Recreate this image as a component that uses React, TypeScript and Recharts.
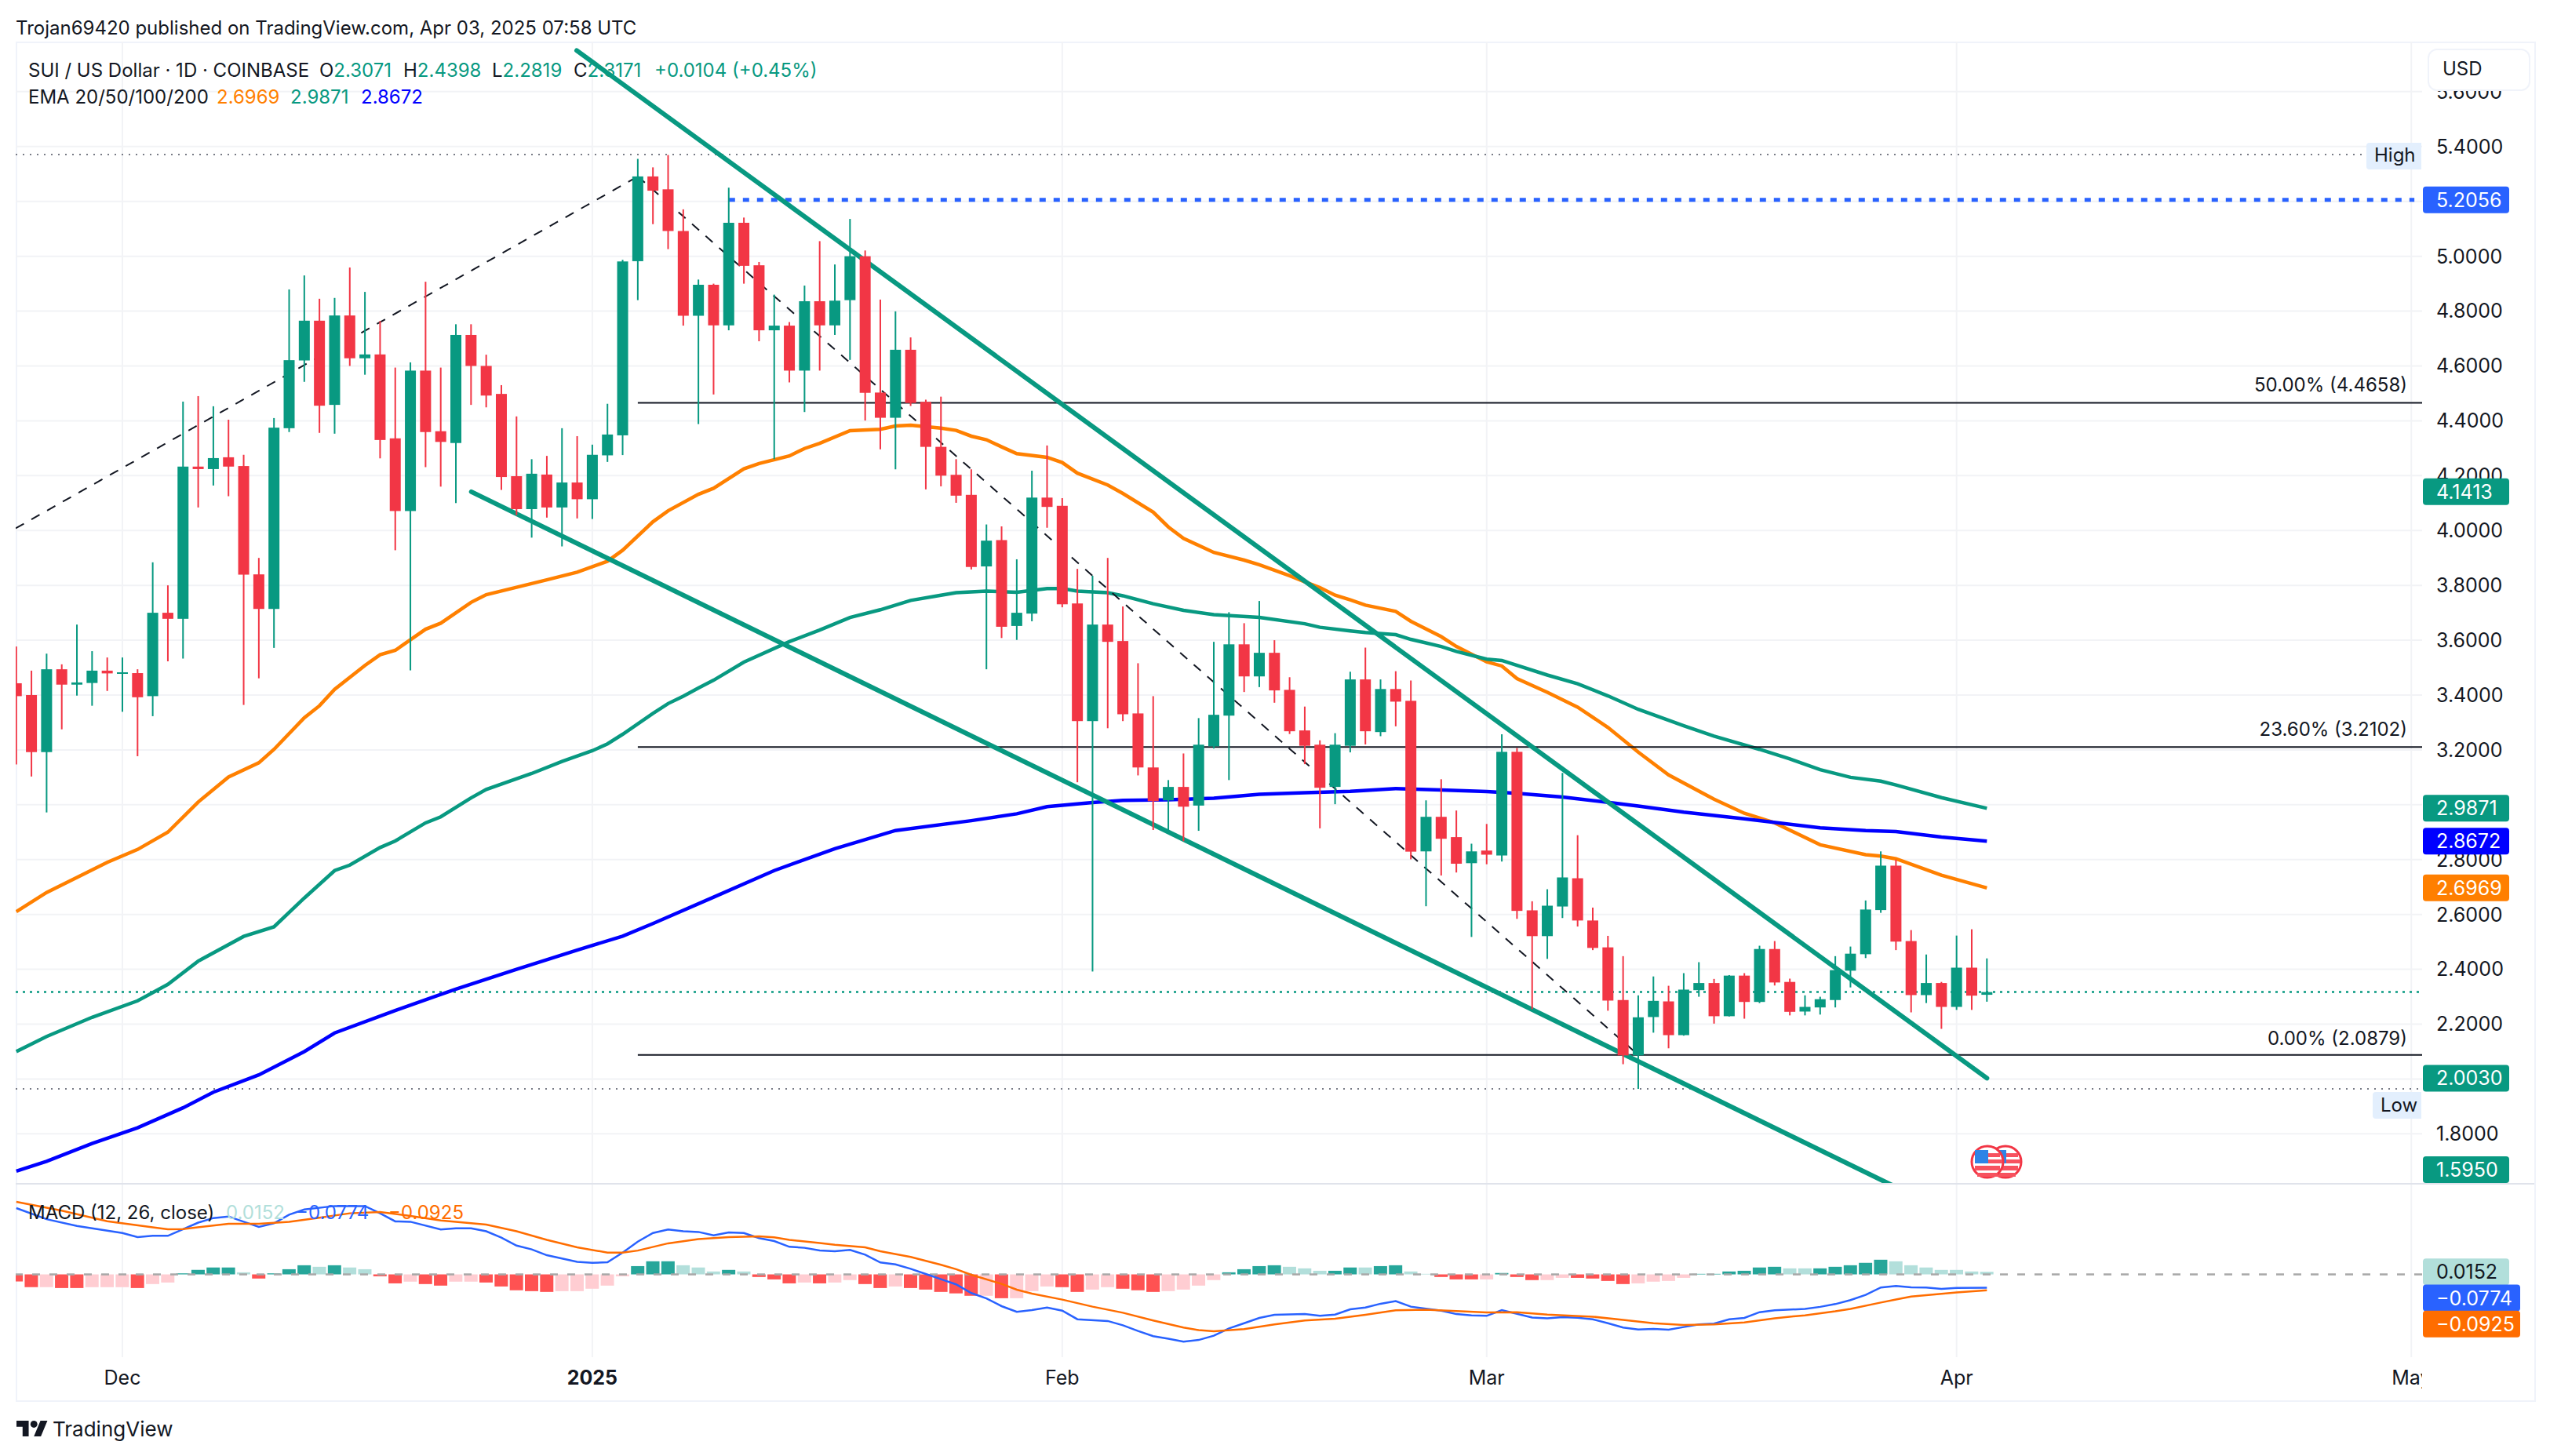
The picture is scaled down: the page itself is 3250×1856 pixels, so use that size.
import React from 'react';
import { ComposedChart, Bar, Line, XAxis, YAxis, CartesianGrid, ReferenceLine, Cell } from 'recharts';

const UP = '#089981';
const DOWN = '#f23645';
const FONT = 'Inter, "Noto Sans", sans-serif';
const INK = '#131722';

// daily candles, day 0 = Nov 24 2024
const opens = [3.443,3.40,3.192,3.494,3.438,3.444,3.489,3.479,3.48,3.396,3.70,3.678,4.233,4.224,4.267,4.235,3.84,3.714,4.373,4.62,4.765,4.458,4.784,4.628,4.642,4.336,4.071,4.583,4.362,4.319,4.713,4.60,4.498,4.198,4.078,4.204,4.084,4.175,4.114,4.274,4.347,4.982,5.291,5.244,5.092,4.783,4.896,4.748,5.122,4.967,4.73,4.747,4.583,4.836,4.748,4.84,5.0,4.503,4.411,4.659,4.469,4.305,4.203,4.13,3.869,3.965,3.652,3.697,4.12,4.09,3.734,3.305,3.657,3.597,3.333,3.136,3.016,3.065,2.997,3.213,3.325,3.585,3.468,3.554,3.419,3.271,3.219,3.065,3.215,3.457,3.265,3.422,3.379,2.83,2.956,2.882,2.787,2.833,2.815,3.193,2.615,2.521,2.629,2.732,2.578,2.48,2.288,2.086,2.226,2.283,2.16,2.324,2.35,2.229,2.377,2.281,2.474,2.354,2.246,2.261,2.288,2.395,2.455,2.616,2.778,2.503,2.306,2.35,2.263,2.406,2.3071];
const highs = [3.577,3.489,3.551,3.512,3.657,3.56,3.537,3.537,3.494,3.884,3.80,4.47,4.49,4.453,4.404,4.276,3.90,4.41,4.879,4.93,4.845,4.848,4.959,4.87,4.764,4.594,4.613,4.907,4.594,4.752,4.752,4.641,4.53,4.416,4.26,4.272,4.373,4.344,4.313,4.462,4.987,5.355,5.324,5.369,5.171,4.915,4.9,5.25,5.141,4.979,4.86,4.76,4.893,5.055,4.97,5.136,5.021,4.842,4.799,4.704,4.477,4.488,4.26,4.223,4.022,4.015,3.895,4.218,4.31,4.118,3.86,3.835,3.90,3.723,3.516,3.396,3.09,3.187,3.316,3.594,3.702,3.662,3.743,3.60,3.465,3.358,3.235,3.261,3.485,3.573,3.457,3.487,3.453,3.016,3.093,2.979,2.858,2.93,3.257,3.207,2.648,2.692,3.116,2.889,2.625,2.522,2.448,2.305,2.374,2.34,2.386,2.426,2.365,2.379,2.386,2.486,2.503,2.366,2.305,2.30,2.448,2.483,2.651,2.83,2.80,2.543,2.454,2.354,2.523,2.546,2.4398];
const lows = [3.147,3.103,2.972,3.275,3.398,3.361,3.415,3.339,3.177,3.323,3.523,3.533,4.084,4.164,4.125,3.364,3.461,3.572,4.359,4.542,4.356,4.353,4.60,4.568,4.263,3.928,3.49,4.231,4.16,4.10,4.458,4.449,4.148,4.056,3.974,4.047,3.942,4.044,4.042,4.25,4.275,4.84,5.117,5.026,4.747,4.388,4.496,4.73,4.90,4.69,4.26,4.54,4.432,4.583,4.713,4.622,4.401,4.296,4.223,4.454,4.15,4.161,4.101,3.858,3.494,3.608,3.601,3.669,4.01,3.72,3.082,2.392,3.279,3.305,3.107,2.908,2.903,2.867,2.905,3.205,3.09,3.411,3.429,3.372,3.258,3.148,2.914,3.002,3.191,3.22,3.25,3.286,2.801,2.63,2.742,2.753,2.518,2.783,2.793,2.584,2.255,2.438,2.587,2.556,2.47,2.249,2.054,1.964,2.169,2.112,2.158,2.30,2.202,2.228,2.22,2.277,2.341,2.232,2.232,2.235,2.261,2.334,2.441,2.606,2.47,2.243,2.277,2.183,2.252,2.252,2.2819];
const closes = [3.396,3.192,3.494,3.438,3.446,3.489,3.479,3.483,3.392,3.70,3.678,4.233,4.224,4.264,4.233,3.839,3.714,4.375,4.621,4.765,4.455,4.784,4.628,4.642,4.33,4.071,4.583,4.359,4.323,4.713,4.60,4.492,4.195,4.078,4.207,4.084,4.175,4.114,4.276,4.35,4.981,5.291,5.239,5.092,4.783,4.896,4.748,5.122,4.965,4.73,4.747,4.583,4.836,4.748,4.838,5.0,4.502,4.411,4.659,4.465,4.305,4.2,4.127,3.867,3.963,3.649,3.70,4.12,4.086,3.731,3.305,3.657,3.594,3.33,3.136,3.013,3.065,2.993,3.219,3.328,3.585,3.468,3.554,3.417,3.268,3.215,3.062,3.219,3.457,3.268,3.422,3.376,2.829,2.956,2.876,2.785,2.83,2.818,3.193,2.613,2.521,2.632,2.735,2.578,2.478,2.286,2.086,2.225,2.285,2.16,2.326,2.35,2.229,2.377,2.281,2.474,2.352,2.245,2.263,2.291,2.397,2.457,2.618,2.778,2.501,2.306,2.35,2.263,2.406,2.304,2.3171];

// [day, value]
const emaOrange = [[0,2.61],[1,2.645],[2,2.68],[4,2.735],[6,2.79],[8,2.837],[10,2.90],[12,3.01],[14,3.101],[16,3.153],[17,3.202],[19,3.317],[20,3.361],[21,3.421],[23,3.508],[24,3.547],[25,3.563],[27,3.64],[28,3.662],[30,3.738],[31,3.766],[33,3.793],[35,3.82],[37,3.848],[39,3.888],[40,3.928],[42,4.032],[43,4.072],[45,4.132],[46,4.154],[48,4.225],[49,4.244],[51,4.272],[52,4.299],[53,4.318],[55,4.364],[57,4.369],[58,4.381],[59,4.384],[61,4.373],[62,4.365],[63,4.344],[64,4.331],[65,4.305],[66,4.28],[68,4.267],[69,4.248],[70,4.209],[72,4.166],[73,4.135],[75,4.067],[76,4.013],[77,3.971],[79,3.92],[81,3.892],[82,3.875],[84,3.835],[85,3.813],[86,3.792],[87,3.764],[88,3.747],[89,3.728],[91,3.705],[92,3.669],[94,3.613],[95,3.577],[97,3.521],[98,3.506],[99,3.46],[101,3.41],[103,3.356],[105,3.282],[107,3.192],[109,3.109],[112,3.02],[114,2.969],[116,2.934],[119,2.854],[122,2.818],[123,2.813],[124,2.803],[127,2.743],[130,2.6969]];
const emaGreen = [[0,2.10],[2,2.155],[5,2.225],[8,2.285],[10,2.345],[12,2.43],[15,2.52],[17,2.555],[19,2.66],[21,2.76],[22,2.78],[24,2.844],[25,2.868],[27,2.934],[28,2.956],[30,3.025],[31,3.056],[34,3.114],[36,3.158],[38,3.197],[39,3.222],[40,3.257],[42,3.333],[43,3.369],[44,3.396],[45,3.426],[46,3.454],[48,3.52],[51,3.595],[53,3.637],[55,3.683],[57,3.711],[59,3.745],[61,3.764],[62,3.773],[64,3.779],[66,3.775],[68,3.788],[69,3.788],[70,3.779],[72,3.773],[73,3.762],[75,3.733],[77,3.709],[79,3.693],[82,3.683],[85,3.66],[86,3.647],[88,3.634],[89,3.628],[91,3.62],[92,3.603],[94,3.577],[95,3.559],[97,3.531],[98,3.526],[101,3.473],[103,3.441],[105,3.397],[107,3.348],[110,3.288],[112,3.25],[115,3.202],[117,3.167],[119,3.128],[121,3.10],[123,3.086],[124,3.072],[127,3.026],[130,2.9871]];
const emaBlue = [[0,1.664],[2,1.70],[5,1.765],[8,1.822],[11,1.895],[13,1.952],[16,2.015],[19,2.10],[21,2.168],[25,2.25],[29,2.328],[33,2.40],[37,2.47],[40,2.521],[42,2.567],[46,2.663],[50,2.76],[54,2.84],[58,2.906],[63,2.942],[66,2.967],[68,2.993],[71,3.008],[73,3.016],[76,3.018],[79,3.024],[82,3.038],[85,3.044],[88,3.049],[91,3.059],[94,3.054],[97,3.048],[99,3.042],[102,3.028],[105,3.009],[107,2.995],[110,2.973],[114,2.949],[119,2.916],[122,2.906],[124,2.902],[127,2.882],[130,2.8672]];

// drawn lines: [day, price]
const channelUpper = [[36.97,5.75],[130,2.003]];
const channelLower = [[30.02,4.1413],[124.4,1.595]];
const swingUp = [[-0.04,4.008],[41,5.291]];
const swingDown = [[41,5.291],[107,2.0879]];
const fibLevels = [4.4658,3.2102,2.0879];
const fibStart = 41;
const highLevel = 5.371;
const lowLevel = 1.964;
const lastClose = 2.3171;
const targetLevel = 5.2056;
const targetStart = 47;

const priceTicks = [1.8,2.0,2.2,2.4,2.6,2.8,3.0,3.2,3.4,3.6,3.8,4.0,4.2,4.4,4.6,4.8,5.0,5.2,5.4,5.6];
// these scale labels sit fully behind a price tag, only their grid line shows
const hiddenTickLabels = [2.0,3.0,5.2];
const priceTags = [
  { value: 5.2056, color: '#2962ff' },
  { value: 4.1413, color: UP },
  { value: 2.9871, color: UP },
  { value: 2.8672, color: '#0000ff' },
  { value: 2.6969, color: '#ff7f00' },
  { value: 2.003, color: UP },
  { value: 1.595, color: UP },
];
const xTicks = [7,38,69,97,128,158];
const xLabels = ['Dec','2025','Feb','Mar','Apr','May'];

const histValues = [-0.041,-0.074,-0.074,-0.079,-0.079,-0.074,-0.074,-0.074,-0.079,-0.056,-0.047,0.006,0.026,0.04,0.04,0.012,-0.024,0.006,0.03,0.053,0.044,0.053,0.04,0.03,-0.011,-0.052,-0.042,-0.056,-0.065,-0.042,-0.042,-0.047,-0.07,-0.092,-0.097,-0.1015,-0.097,-0.097,-0.083,-0.065,-0.011,0.048,0.076,0.076,0.053,0.04,0.017,0.026,0.017,-0.015,-0.029,-0.052,-0.047,-0.052,-0.047,-0.033,-0.056,-0.079,-0.07,-0.079,-0.088,-0.1015,-0.11,-0.124,-0.124,-0.138,-0.138,-0.097,-0.07,-0.074,-0.1015,-0.088,-0.074,-0.083,-0.092,-0.1015,-0.097,-0.088,-0.065,-0.033,0.012,0.03,0.048,0.053,0.044,0.035,0.021,0.021,0.04,0.04,0.048,0.053,0.017,0.003,-0.015,-0.029,-0.029,-0.029,0.008,-0.015,-0.033,-0.033,-0.02,-0.02,-0.024,-0.038,-0.056,-0.052,-0.042,-0.038,-0.02,0.003,0.003,0.017,0.021,0.04,0.044,0.035,0.035,0.035,0.044,0.053,0.067,0.085,0.076,0.053,0.04,0.026,0.026,0.017,0.0152];
// 1 = strong shade, 0 = pale shade of the histogram colour
const histStrong = [1,1,0,1,1,0,0,0,1,0,0,1,1,1,1,0,1,1,1,1,0,1,0,0,1,1,0,1,1,0,0,1,1,1,1,1,0,0,0,0,0,1,1,1,0,0,0,1,0,1,1,1,0,1,0,0,1,1,0,1,1,1,1,1,0,1,0,0,0,1,1,0,0,1,1,1,0,0,0,0,1,1,1,1,0,0,0,1,1,0,1,1,0,0,1,1,1,0,1,1,1,0,0,1,1,1,1,0,0,0,0,1,1,1,1,1,1,0,0,1,1,1,1,1,0,0,0,0,0,0,0];
const macdLine = [[0,0.384],[2,0.32],[4,0.281],[7,0.24],[8,0.216],[9,0.224],[10,0.2235],[12,0.30],[13,0.3265],[14,0.3356],[15,0.305],[16,0.275],[17,0.296],[18,0.346],[19,0.376],[21,0.396],[23,0.396],[24,0.354],[25,0.307],[26,0.305],[28,0.26],[29,0.267],[30,0.267],[31,0.25],[32,0.213],[33,0.167],[34,0.145],[35,0.111],[37,0.073],[38,0.0674],[39,0.07],[40,0.126],[41,0.19],[42,0.24],[43,0.26],[44,0.25],[45,0.246],[46,0.226],[47,0.243],[48,0.24],[49,0.21],[50,0.193],[51,0.16],[52,0.154],[53,0.139],[54,0.134],[55,0.142],[56,0.114],[57,0.069],[58,0.0583],[59,0.0326],[60,0.0022],[61,-0.028],[62,-0.058],[63,-0.108],[64,-0.139],[65,-0.184],[66,-0.217],[67,-0.207],[68,-0.192],[69,-0.21],[70,-0.26],[72,-0.27],[73,-0.295],[74,-0.328],[75,-0.358],[76,-0.373],[77,-0.39],[78,-0.38],[79,-0.355],[80,-0.313],[81,-0.283],[82,-0.252],[83,-0.234],[85,-0.23],[86,-0.24],[87,-0.233],[88,-0.202],[89,-0.192],[90,-0.17],[91,-0.155],[92,-0.187],[93,-0.199],[94,-0.21],[95,-0.23],[96,-0.237],[97,-0.24],[98,-0.207],[99,-0.228],[100,-0.25],[101,-0.255],[102,-0.248],[103,-0.251],[104,-0.26],[105,-0.283],[106,-0.308],[107,-0.319],[108,-0.316],[109,-0.32],[110,-0.305],[111,-0.29],[112,-0.285],[113,-0.26],[114,-0.252],[115,-0.219],[116,-0.208],[118,-0.2],[119,-0.188],[120,-0.172],[121,-0.149],[122,-0.119],[123,-0.076],[124,-0.067],[125,-0.075],[126,-0.076],[127,-0.084],[128,-0.078],[130,-0.0774]];
const signalLine = [[0,0.42],[3,0.369],[6,0.308],[9,0.273],[10,0.261],[11,0.263],[14,0.293],[16,0.293],[18,0.305],[20,0.328],[22,0.354],[24,0.3613],[26,0.339],[28,0.313],[31,0.289],[33,0.25],[35,0.2],[37,0.157],[39,0.1265],[40,0.126],[41,0.138],[43,0.18],[45,0.205],[47,0.216],[49,0.2205],[50,0.2144],[51,0.2],[53,0.182],[54,0.172],[56,0.157],[57,0.134],[59,0.101],[61,0.056],[62,0.03],[63,-0.002],[65,-0.055],[66,-0.0886],[67,-0.111],[69,-0.146],[71,-0.187],[73,-0.222],[75,-0.267],[77,-0.308],[78,-0.323],[79,-0.33],[81,-0.317],[83,-0.29],[85,-0.267],[87,-0.257],[89,-0.234],[91,-0.208],[93,-0.204],[95,-0.213],[97,-0.22],[99,-0.219],[101,-0.233],[104,-0.245],[106,-0.264],[108,-0.283],[110,-0.293],[112,-0.29],[114,-0.278],[116,-0.254],[118,-0.237],[120,-0.214],[121,-0.2],[123,-0.163],[124,-0.145],[125,-0.128],[127,-0.113],[128,-0.105],[130,-0.0925]];
const macdTags = [
  { value: 0.0152, color: '#b2dfdb', text: INK, shift: 0, wide: false },
  { value: -0.0774, color: '#2962ff', text: '#fff', shift: 13, wide: true },
  { value: -0.0925, color: '#ff6d00', text: '#fff', shift: 43, wide: true },
];

const candles = opens.map((o, i) => ({ day: i, open: o, high: highs[i], low: lows[i], close: closes[i] }));
const histogram = histValues.map((v, i) => ({ day: i, hist: v, strong: histStrong[i] }));
const pts = (list: number[][]) => list.map(([day, value]) => ({ day, value }));

const X_DOMAIN = [-0.04, 158.71];
const PRICE_DOMAIN = [1.618, 5.7827];
const MACD_DOMAIN = [-0.4795, 0.525];
const TAG_X = 3088;
const BODY_W = 14;

const candleRange = (d: any) => [d.low, d.high];

const Candle = (props: any) => {
  const { x, y, width, height, payload } = props;
  const { open, close, high, low } = payload;
  const at = (v: number) => y + ((high - v) / (high - low)) * height;
  const color = close >= open ? UP : DOWN;
  const top = at(Math.max(open, close));
  const bottom = at(Math.min(open, close));
  const cx = x + width / 2;
  return (
    <g>
      <rect x={cx - 1} y={y} width={2} height={height} fill={color} />
      <rect x={cx - BODY_W / 2} y={top} width={BODY_W} height={Math.max(bottom - top, 2)} fill={color} />
    </g>
  );
};

const PriceTag = (props: any) => {
  const { y, payload } = props;
  const tag = priceTags.find((t) => t.value === payload.value);
  if (!tag) return null;
  const cy = Math.min(y, 1491);
  return (
    <g>
      <rect x={TAG_X} y={cy - 17} width={110} height={34} rx={4} fill={tag.color} />
      <text x={3105} y={cy + 9} fontSize={25} fontFamily={FONT} fill="#fff">{tag.value.toFixed(4)}</text>
    </g>
  );
};

const MacdTag = (props: any) => {
  const { y, payload } = props;
  const tag = macdTags.find((t) => t.value === payload.value);
  if (!tag) return null;
  const cy = y + tag.shift;
  return (
    <g>
      <rect x={TAG_X} y={cy - 17} width={tag.wide ? 124 : 110} height={34} rx={4} fill={tag.color} />
      <text x={3105} y={cy + 9} fontSize={25} fontFamily={FONT} fill={tag.text}>
        {tag.value < 0 ? '\u2212' + Math.abs(tag.value).toFixed(4) : tag.value.toFixed(4)}
      </text>
    </g>
  );
};

const DateTick = (props: any) => {
  const { x, y, payload } = props;
  const label = xLabels[xTicks.indexOf(payload.value)];
  return (
    <text x={x} y={y + 27} textAnchor="middle" fontSize={25} fontFamily={FONT} fill={INK} fontWeight={label === '2025' ? 700 : 400}>
      {label}
    </text>
  );
};

const Txt = ({ x, y, color = INK, size = 24, right, children }: any) => (
  <div
    style={{
      position: 'absolute',
      ...(right !== undefined ? { right: 3250 - right } : { left: x }),
      top: y,
      transform: 'translateY(-50%)',
      color,
      fontSize: size,
      fontFamily: FONT,
      whiteSpace: 'nowrap',
      lineHeight: 1,
    }}
  >
    {children}
  </div>
);

const Flag = ({ cx }: { cx: number }) => (
  <g>
    <circle cx={cx} cy={1481} r={20} fill="#fff" stroke={DOWN} strokeWidth={3} />
    <rect x={cx - 16} y={1486} width={32} height={6} fill="#f7525f" />
    <rect x={cx - 13} y={1495} width={26} height={5} fill="#f7525f" />
    <rect x={cx + 1} y={1470} width={15} height={5} fill="#f7525f" />
    <rect x={cx + 1} y={1478} width={18} height={5} fill="#f7525f" />
    <rect x={cx - 16} y={1466} width={17} height={17} fill="#2e84e6" />
  </g>
);

export default function App() {
  return (
    <div style={{ position: 'absolute', left: 0, top: 0, width: 3250, height: 1856, background: '#fff', overflow: 'hidden' }}>
      <Txt x={20} y={36}>Trojan69420 published on TradingView.com, Apr 03, 2025 07:58 UTC</Txt>
      <div style={{ position: 'absolute', left: 20, top: 53, width: 3208, height: 1730, border: '2px solid #f0f3fa' }} />

      {/* grid and price scale sit under the legend text */}
      <div style={{ position: 'absolute', left: 0, top: 0 }}>
        <ComposedChart width={3250} height={1509} data={candles} margin={{ top: 53, right: 0, bottom: 0, left: 20 }}>
          <CartesianGrid stroke="#f2f3f6" strokeWidth={2} syncWithTicks />
          <XAxis type="number" dataKey="day" domain={X_DOMAIN} ticks={xTicks} interval={0} allowDataOverflow hide />
          <YAxis
            orientation="right"
            type="number"
            domain={PRICE_DOMAIN}
            allowDataOverflow
            ticks={priceTicks}
            interval={0}
            width={163}
            axisLine={false}
            tickLine={false}
            tickMargin={12}
            tickFormatter={(v: number) => (hiddenTickLabels.includes(v) ? '' : v.toFixed(4))}
            tick={{ fontSize: 25, fontFamily: FONT, fill: INK }}
          />
        </ComposedChart>
      </div>

      <Txt x={36} y={90}>SUI / US Dollar · 1D · COINBASE</Txt>
      <Txt x={407} y={90}>O<span style={{ color: UP }}>2.3071</span></Txt>
      <Txt x={514} y={90}>H<span style={{ color: UP }}>2.4398</span></Txt>
      <Txt x={627} y={90}>L<span style={{ color: UP }}>2.2819</span></Txt>
      <Txt x={731} y={90}>C<span style={{ color: UP }}>2.3171</span></Txt>
      <Txt x={834} y={90} color={UP}>+0.0104 (+0.45%)</Txt>
      <Txt x={36} y={124}>EMA 20/50/100/200</Txt>
      <Txt x={276} y={124} color="#ff7f00">2.6969</Txt>
      <Txt x={370} y={124} color={UP}>2.9871</Txt>
      <Txt x={460} y={124} color="#0000ff">2.8672</Txt>

      <div style={{ position: 'absolute', left: 0, top: 0 }}>
        <ComposedChart width={3250} height={1509} data={candles} margin={{ top: 53, right: 0, bottom: 0, left: 20 }}>
          <XAxis type="number" dataKey="day" domain={X_DOMAIN} ticks={xTicks} allowDataOverflow hide />
          <YAxis orientation="right" type="number" domain={PRICE_DOMAIN} allowDataOverflow width={162} axisLine={false} tickLine={false} tick={false} />
          <YAxis
            yAxisId="tags"
            orientation="right"
            type="number"
            domain={PRICE_DOMAIN}
            allowDataOverflow
            ticks={priceTags.map((t) => t.value)}
            interval={0}
            width={1}
            axisLine={false}
            tickLine={false}
            tick={<PriceTag />}
          />
          <Line data={pts([[-0.04, highLevel],[158.71, highLevel]])} dataKey="value" dot={false} stroke="#787b86" strokeWidth={2} strokeDasharray="2 7" isAnimationActive={false} />
          <Line data={pts([[-0.04, lowLevel],[158.71, lowLevel]])} dataKey="value" dot={false} stroke="#787b86" strokeWidth={2} strokeDasharray="2 7" isAnimationActive={false} />
          <Line data={pts([[-0.04, lastClose],[158.71, lastClose]])} dataKey="value" dot={false} stroke={UP} strokeWidth={2.5} strokeDasharray="3 6" isAnimationActive={false} />
          <Line data={pts(emaOrange)} dataKey="value" dot={false} stroke="#ff8000" strokeWidth={4.5} isAnimationActive={false} />
          <Line data={pts(emaGreen)} dataKey="value" dot={false} stroke={UP} strokeWidth={4.5} isAnimationActive={false} />
          <Line data={pts(emaBlue)} dataKey="value" dot={false} stroke="#0000ff" strokeWidth={4.5} isAnimationActive={false} />
          <Line data={pts(swingUp)} dataKey="value" dot={false} stroke={INK} strokeWidth={2} strokeDasharray="12 11" isAnimationActive={false} />
          <Line data={pts(swingDown)} dataKey="value" dot={false} stroke={INK} strokeWidth={2} strokeDasharray="12 11" isAnimationActive={false} />
          {fibLevels.map((level) => (
            <Line key={level} data={pts([[fibStart, level],[158.71, level]])} dataKey="value" dot={false} stroke={INK} strokeWidth={2} isAnimationActive={false} />
          ))}
          <Line data={pts([[targetStart, targetLevel],[158.2, targetLevel]])} dataKey="value" dot={false} stroke="#2962ff" strokeWidth={5} strokeDasharray="8 10" isAnimationActive={false} />
          <Line data={pts(channelUpper)} dataKey="value" dot={false} stroke={UP} strokeWidth={6} strokeLinecap="round" isAnimationActive={false} />
          <Line data={pts(channelLower)} dataKey="value" dot={false} stroke={UP} strokeWidth={6} strokeLinecap="round" isAnimationActive={false} />
          <Bar dataKey={candleRange} barSize={BODY_W} shape={<Candle />} isAnimationActive={false} zIndex={900} />
        </ComposedChart>
      </div>

      <Txt right={3068} y={491}>50.00% (4.4658)</Txt>
      <Txt right={3068} y={930}>23.60% (3.2102)</Txt>
      <Txt right={3068} y={1324}>0.00% (2.0879)</Txt>

      <div style={{ position: 'absolute', left: 3016, top: 182, width: 70, height: 34, background: '#e3effd', borderRadius: '4px 0 0 4px' }} />
      <Txt x={3026} y={198}>High</Txt>
      <div style={{ position: 'absolute', left: 3024, top: 1392, width: 62, height: 34, background: '#e3effd', borderRadius: '4px 0 0 4px' }} />
      <Txt x={3034} y={1409}>Low</Txt>

      <svg width={3250} height={1509} style={{ position: 'absolute', left: 0, top: 0, pointerEvents: 'none' }}>
        <Flag cx={2556} />
        <Flag cx={2533} />
      </svg>

      <div style={{ position: 'absolute', left: 3094, top: 62, width: 127, height: 50, background: '#fff', border: '2px solid #f0f3fa', borderRadius: 12 }} />
      <Txt x={3113} y={88} size={24}>USD</Txt>

      <div style={{ position: 'absolute', left: 0, top: 1509 }}>
        <ComposedChart width={3250} height={276} data={histogram} margin={{ top: 0, right: 0, bottom: 0, left: 20 }}>
          <CartesianGrid stroke="#f2f3f6" strokeWidth={2} horizontal={false} syncWithTicks />
          <XAxis type="number" dataKey="day" domain={X_DOMAIN} ticks={xTicks} interval={0} allowDataOverflow height={55} axisLine={false} tickLine={false} tick={<DateTick />} />
          <YAxis type="number" orientation="right" domain={MACD_DOMAIN} allowDataOverflow width={162} axisLine={false} tickLine={false} tick={false} />
          <YAxis yAxisId="tags" orientation="right" type="number" domain={MACD_DOMAIN} allowDataOverflow ticks={macdTags.map((t) => t.value)} interval={0} width={1} axisLine={false} tickLine={false} tick={<MacdTag />} />
          <Bar dataKey="hist" barSize={17} isAnimationActive={false}>
            {histogram.map((d) => (
              <Cell key={d.day} fill={d.hist >= 0 ? (d.strong ? '#26a69a' : '#b2dfdb') : d.strong ? '#ff5252' : '#ffcdd2'} />
            ))}
          </Bar>
          <ReferenceLine y={0} stroke="#a8a8a8" strokeWidth={2.5} strokeDasharray="10 12" />
          <Line data={pts(macdLine)} dataKey="value" dot={false} stroke="#2962ff" strokeWidth={2.5} isAnimationActive={false} />
          <Line data={pts(signalLine)} dataKey="value" dot={false} stroke="#ff6d00" strokeWidth={2.5} isAnimationActive={false} />
        </ComposedChart>
      </div>

      <div style={{ position: 'absolute', left: 3087, top: 1735, width: 60, height: 45, background: '#fff' }} />
      <div style={{ position: 'absolute', left: 20, top: 1508, width: 3210, height: 2, background: '#e0e3eb' }} />

      <Txt x={36} y={1546}>MACD (12, 26, close)</Txt>
      <Txt x={288} y={1546} color="#b2dfdb">0.0152</Txt>
      <Txt x={377} y={1546} color="#2962ff">−0.0774</Txt>
      <Txt x={495} y={1546} color="#ff6d00">−0.0925</Txt>

      <svg width={40} height={20} viewBox="0 4 36 18" style={{ position: 'absolute', left: 21, top: 1811 }}>
        <path d="M14 22H7V11H0V4h14v18zM28 22h-8l7.5-18h8L28 22z" fill={INK} />
        <circle cx={20} cy={8} r={4} fill={INK} />
      </svg>
      <Txt x={67} y={1822} size={26}>TradingView</Txt>
    </div>
  );
}
